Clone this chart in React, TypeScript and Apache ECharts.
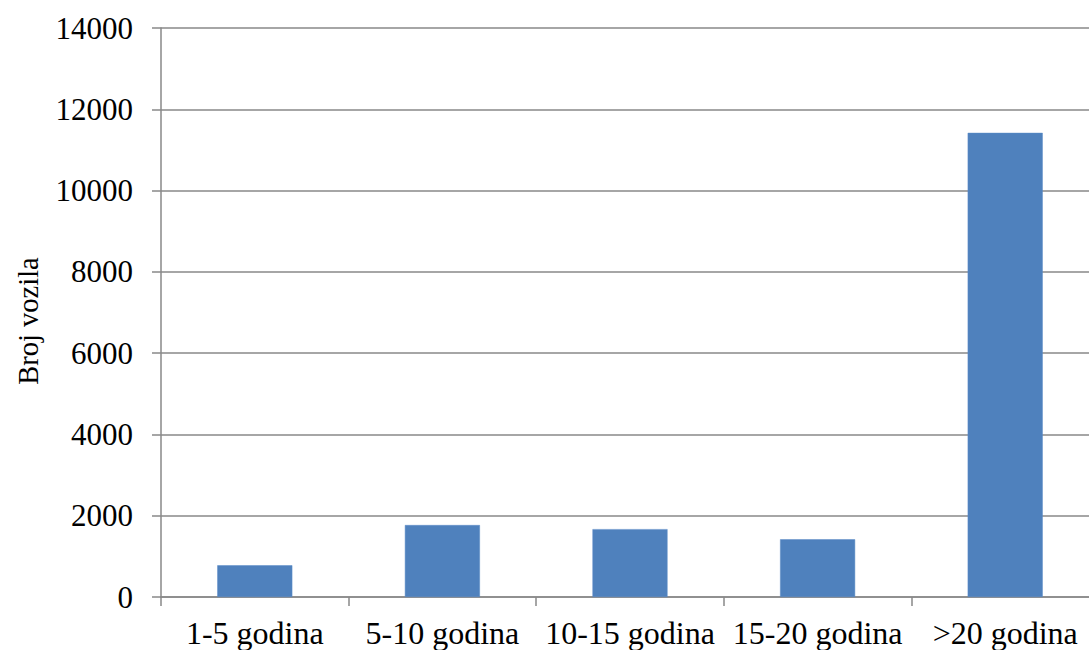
import React, { useEffect, useRef } from "react";
import * as echarts from "echarts";

const categories = ["1-5 godina", "5-10 godina", "10-15 godina", "15-20 godina", ">20 godina"];
const values = [780, 1770, 1670, 1420, 11420];
const yAxisName = "Broj vozila";

export default function App() {
  const ref = useRef<HTMLDivElement>(null);
  useEffect(() => {
    if (!ref.current) return;
    const chart = echarts.init(ref.current, null, { renderer: "svg" });
    const font = "Liberation Serif";
    const grey = "#888888";
    chart.setOption({
      animation: false,
      textStyle: { fontFamily: font },
      grid: { left: 161, right: 0, top: 28, bottom: 53, containLabel: false },
      graphic: [
        {
          type: "text",
          x: 28,
          y: 321,
          rotation: Math.PI / 2,
          style: {
            text: yAxisName,
            fill: "#000",
            fontSize: 28.5,
            fontFamily: font,
            textAlign: "center",
            textVerticalAlign: "middle",
          },
        },
      ],
      xAxis: {
        type: "category",
        data: categories,
        boundaryGap: true,
        axisLine: { show: true, lineStyle: { color: grey, width: 1.5 } },
        axisTick: { show: true, alignWithLabel: false, length: 9, lineStyle: { color: grey, width: 1.5 } },
        axisLabel: { color: "#000", fontSize: 32, fontFamily: font, margin: 20, interval: 0 },
      },
      yAxis: {
        type: "value",
        min: 0,
        max: 14000,
        interval: 2000,
        axisLine: { show: true, lineStyle: { color: grey, width: 1.5 } },
        axisTick: { show: true, length: 9, lineStyle: { color: grey, width: 1.5 } },
        axisLabel: { color: "#000", fontSize: 31, fontFamily: font, margin: 28, formatter: (v: number) => String(v) },
        splitLine: { show: true, lineStyle: { color: grey, width: 1.5 } },
      },
      series: [
        {
          type: "bar",
          data: values,
          barWidth: "40%",
          itemStyle: { color: "#4F81BD", borderColor: "#5A8AC6", borderWidth: 0.5 },
        },
      ],
    });
    return () => chart.dispose();
  }, []);
  return (
    <div style={{ position: "fixed", left: 0, top: 0, width: 1089, height: 650, overflow: "hidden", background: "#fff" }}>
      <div ref={ref} style={{ width: 1099, height: 650 }} />
    </div>
  );
}
